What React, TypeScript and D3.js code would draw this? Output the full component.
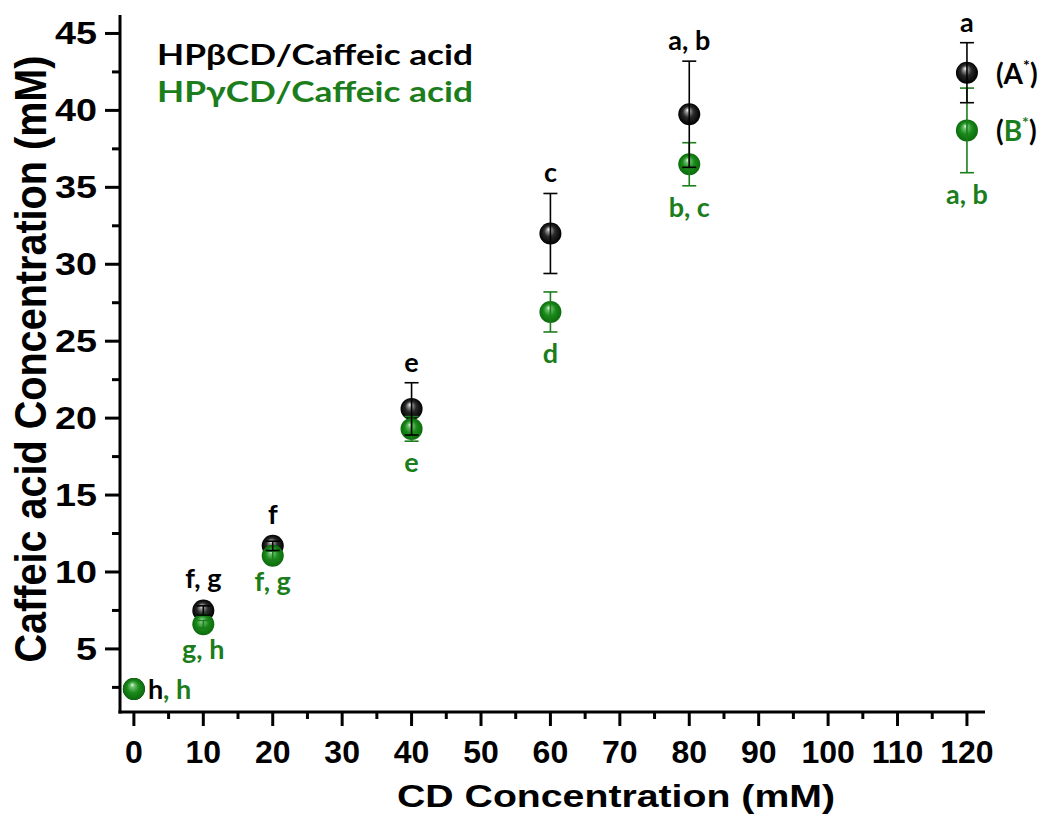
import React from "react";
import * as d3 from "d3";

const cdConc = [0, 10, 20, 40, 60, 80, 120];
const betaMean = [2.4, 7.5, 11.7, 20.6, 32.0, 39.75, 42.45];
const betaErr = [0.05, 0.3, 0.3, 1.7, 2.6, 3.45, 1.95];
const gammaMean = [2.4, 6.6, 11.05, 19.3, 26.9, 36.5, 38.7];
const gammaErr = [0.05, 0.25, 0.3, 0.8, 1.3, 1.4, 2.75];
const betaLetters = ["", "f, g", "f", "e", "c", "a, b", "a"];
const gammaLetters = ["", "g, h", "f, g", "e", "d", "b, c", "a, b"];
const xMajor = [0, 10, 20, 30, 40, 50, 60, 70, 80, 90, 100, 110, 120];
const yMajor = [5, 10, 15, 20, 25, 30, 35, 40, 45];

const BLACK = "#000000";
const GREEN = "#1b7d1b";
const AX = "'Liberation Sans', Arial, sans-serif";
const LB = "Lato, 'Open Sans', sans-serif";

export default function App() {
  const x = d3.scaleLinear().domain([-2, 122.6]).range([120, 985]);
  const y = d3.scaleLinear().domain([0.9, 46.2]).range([712, 15]);
  const xMinor = d3.range(5, 120, 10);
  const yMinor = d3.range(2.5, 45, 5);
  const r = 11;
  const cap = 7;

  const errBars = (means: number[], errs: number[], color: string) =>
    cdConc.map((c, i) => {
      if (c === 0) return null;
      const cx = x(c);
      const t = y(means[i] + errs[i]);
      const b = y(means[i] - errs[i]);
      return (
        <g key={i} stroke={color} strokeWidth={1.6}>
          <line x1={cx} x2={cx} y1={t} y2={b} />
          <line x1={cx - cap} x2={cx + cap} y1={t} y2={t} />
          <line x1={cx - cap} x2={cx + cap} y1={b} y2={b} />
        </g>
      );
    });

  const markers = (means: number[], grad: string) =>
    cdConc.map((c, i) => (
      <circle key={i} cx={x(c)} cy={y(means[i])} r={r} fill={`url(#${grad})`} />
    ));

  return (
    <svg width={1050} height={823} style={{ position: "absolute", left: 0, top: 0, background: "#fff" }}>
      <defs>
        <radialGradient id="gBlack" cx="0.5" cy="0.5" r="0.5" fx="0.42" fy="0.3">
          <stop offset="0" stopColor="#ffffff" />
          <stop offset="0.18" stopColor="#9a9a9a" />
          <stop offset="0.5" stopColor="#2a2a2a" />
          <stop offset="1" stopColor="#000000" />
        </radialGradient>
        <radialGradient id="gGreen" cx="0.5" cy="0.5" r="0.5" fx="0.42" fy="0.3">
          <stop offset="0" stopColor="#e8f8e8" />
          <stop offset="0.2" stopColor="#6cc06c" />
          <stop offset="0.55" stopColor="#1a8a1a" />
          <stop offset="1" stopColor="#0c6a0c" />
        </radialGradient>
      </defs>

      {/* axes */}
      <g stroke="#000" strokeWidth={3}>
        <line x1={120} x2={120} y1={15} y2={713.5} />
        <line x1={118.5} x2={985} y1={712} y2={712} />
        {xMajor.map((v) => (
          <line key={"xm" + v} x1={x(v)} x2={x(v)} y1={712} y2={726} />
        ))}
        {xMinor.map((v) => (
          <line key={"xn" + v} x1={x(v)} x2={x(v)} y1={712} y2={719} />
        ))}
        {yMajor.map((v) => (
          <line key={"ym" + v} x1={105} x2={120} y1={y(v)} y2={y(v)} />
        ))}
        {yMinor.map((v) => (
          <line key={"yn" + v} x1={112} x2={120} y1={y(v)} y2={y(v)} />
        ))}
      </g>
      <g fontFamily={AX} fontWeight="bold" fontSize={32} fill="#000">
        {xMajor.map((v) => (
          <text key={"xl" + v} x={x(v)} y={763} textAnchor="middle">
            {v}
          </text>
        ))}
      </g>
      <g fontFamily={AX} fontWeight="bold" fontSize={31} fill="#000">
        {yMajor.map((v) => (
          <text
            key={"yl" + v}
            x={97}
            y={y(v) + 11}
            textAnchor="end"
            textLength={String(v).length * 21}
            lengthAdjust="spacingAndGlyphs"
          >
            {v}
          </text>
        ))}
      </g>
      <text
        x={616}
        y={807}
        textAnchor="middle"
        fontFamily={AX}
        fontWeight="bold"
        fontSize={32}
        textLength={438}
        lengthAdjust="spacingAndGlyphs"
      >
        CD Concentration (mM)
      </text>
      <g transform="translate(46,359) rotate(-90) scale(0.9,1)">
        <text
          x={0}
          y={0}
          textAnchor="middle"
          fontFamily={AX}
          fontWeight="bold"
          fontSize={44}
        >
          Caffeic acid Concentration (mM)
        </text>
      </g>

      {/* legend */}
      <text x={157} y={65} fontFamily={LB} fontWeight="bold" fontSize={29} fill={BLACK} textLength={316} lengthAdjust="spacingAndGlyphs">
        HPβCD/Caffeic acid
      </text>
      <text x={157} y={102} fontFamily={LB} fontWeight="bold" fontSize={29} fill={GREEN} textLength={316} lengthAdjust="spacingAndGlyphs">
        HPγCD/Caffeic acid
      </text>

      {/* data */}
      {markers(betaMean, "gBlack")}
      {markers(gammaMean, "gGreen")}
      {errBars(gammaMean, gammaErr, GREEN)}
      {errBars(betaMean, betaErr, BLACK)}

      {/* letter annotations */}
      <g fontFamily={LB} fontWeight="bold" fontSize={27} textAnchor="middle">
        {cdConc.map((c, i) =>
          betaLetters[i] ? (
            <text key={"bl" + i} x={x(c)} y={Math.min(y(betaMean[i] + betaErr[i]), y(betaMean[i]) - r) - 11} fill={BLACK}>
              {betaLetters[i]}
            </text>
          ) : null
        )}
        {cdConc.map((c, i) =>
          gammaLetters[i] ? (
            <text key={"gl" + i} x={x(c)} y={y(gammaMean[i] - gammaErr[i]) + 31} fill={GREEN}>
              {gammaLetters[i]}
            </text>
          ) : null
        )}
      </g>
      <text x={x(0) + 14} y={y(gammaMean[0]) + 10} fontFamily={LB} fontWeight="bold" fontSize={27}>
        <tspan fill={BLACK}>h</tspan>
        <tspan fill={GREEN}>, h</tspan>
      </text>
      <g fontFamily={LB} fontWeight="bold" fontSize={28}>
        <text x={x(120) + 29} y={y(betaMean[6]) + 11} fill={BLACK}>
          (A<tspan fontSize={16} dy={-13}>*</tspan>
          <tspan dy={13}>)</tspan>
        </text>
        <text x={x(120) + 29} y={y(gammaMean[6]) + 11} fill={BLACK}>
          (<tspan fill={GREEN}>B</tspan>
          <tspan fill={GREEN} fontSize={16} dy={-13}>*</tspan>
          <tspan dy={13}>)</tspan>
        </text>
      </g>
    </svg>
  );
}
